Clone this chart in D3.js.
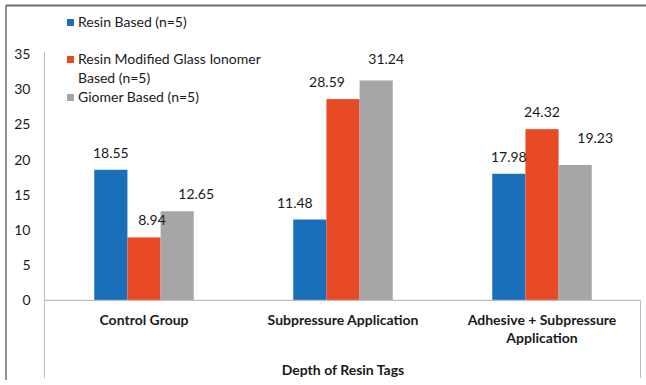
<!DOCTYPE html>
<html>
<head>
<meta charset="utf-8">
<script src="https://cdn.jsdelivr.net/npm/d3@7"></script>
<style>
  body { margin: 0; background: #fff; }
  text { font-family: Lato, "Open Sans", sans-serif; fill: #1a1a1a; }
</style>
</head>
<body>
<div id="chart"></div>
<script>
// categories and series
const groups = ["Control Group", "Subpressure Application", "Adhesive + Subpressure Application"];
const seriesNames = ["Resin Based (n=5)", "Resin Modified Glass Ionomer Based (n=5)", "Giomer Based (n=5)"];
const resinBased = [18.55, 11.48, 17.98];
const rmgiBased = [8.94, 28.59, 24.32];
const giomerBased = [12.65, 31.24, 19.23];
const yTicks = [0, 5, 10, 15, 20, 25, 30, 35];
const axisTitle = "Depth of Resin Tags";

// label nudges (the source chart has hand-placed labels)
const labelDx = [[0, -15, 0], [8, -16, 0], [19, 10, 20]];
const labelDy = [[0, 0, 0], [0, 0, 0], [0, -4, -10]];

const colors = ["#1a6fbb", "#e84a26", "#a6a6a6"];
const values = [resinBased, rmgiBased, giomerBased];

const width = 646, height = 385;
const plot = {left: 44.5, right: 641.5, top: 54, bottom: 300.3};
const fs = "14px";

const svg = d3.select("#chart")
  .append("svg")
  .attr("width", width)
  .attr("height", height);

// outer frame (top and left edges visible)
svg.append("line")
  .attr("x1", 6).attr("x2", width).attr("y1", 5.5).attr("y2", 5.5)
  .attr("stroke", "#6e6e6e").attr("stroke-width", 2);
svg.append("line")
  .attr("x1", 6).attr("x2", 6).attr("y1", 5).attr("y2", 380)
  .attr("stroke", "#6e6e6e").attr("stroke-width", 1.5);

const x0 = d3.scaleBand()
  .domain(groups)
  .range([plot.left, plot.right])
  .paddingInner(0.5)
  .paddingOuter(0.25);

const x1 = d3.scaleBand()
  .domain(d3.range(seriesNames.length))
  .range([0, x0.bandwidth()]);

const y = d3.scaleLinear()
  .domain([0, 35])
  .range([plot.bottom, plot.top]);

// Y axis labels
const yAxis = svg.append("g")
  .attr("transform", `translate(${plot.left},0)`)
  .call(d3.axisLeft(y).tickValues(yTicks).tickSize(0).tickPadding(14));
yAxis.select(".domain").remove();
yAxis.selectAll("text")
  .style("font-family", "Lato, sans-serif")
  .style("font-size", fs)
  .attr("fill", "#1a1a1a");

// axis lines
svg.append("line")
  .attr("x1", plot.left).attr("x2", plot.left)
  .attr("y1", y(35) - 2).attr("y2", 378)
  .attr("stroke", "#bdbdbd").attr("stroke-width", 1);
svg.append("line")
  .attr("x1", plot.right - 1).attr("x2", plot.right - 1)
  .attr("y1", y(0)).attr("y2", 378)
  .attr("stroke", "#bdbdbd").attr("stroke-width", 1);

// bars
const groupG = svg.append("g").selectAll("g")
  .data(groups)
  .join("g")
  .attr("transform", d => `translate(${x0(d)},0)`);

groupG.selectAll("rect")
  .data((g, gi) => values.map((s, si) => ({si, gi, v: s[gi]})))
  .join("rect")
  .attr("x", d => x1(d.si))
  .attr("y", d => y(d.v))
  .attr("width", x1.bandwidth())
  .attr("height", d => y(0) - y(d.v))
  .attr("fill", d => colors[d.si]);

groupG.selectAll("text.val")
  .data((g, gi) => values.map((s, si) => ({si, gi, v: s[gi]})))
  .join("text")
  .attr("class", "val")
  .attr("x", d => x1(d.si) + x1.bandwidth() / 2 + labelDx[d.si][d.gi])
  .attr("y", d => y(d.v) - 12 + labelDy[d.si][d.gi])
  .attr("text-anchor", "middle")
  .style("font-size", fs)
  .text(d => d.v.toFixed(2));

// baseline
svg.append("line")
  .attr("x1", plot.left).attr("x2", plot.right - 1)
  .attr("y1", y(0)).attr("y2", y(0))
  .attr("stroke", "#bdbdbd").attr("stroke-width", 1.2);

// category labels
const catLines = {
  "Control Group": ["Control Group"],
  "Subpressure Application": ["Subpressure Application"],
  "Adhesive + Subpressure Application": ["Adhesive + Subpressure", "Application"]
};
const xAxis = svg.append("g")
  .attr("transform", `translate(0,${y(0)})`)
  .call(d3.axisBottom(x0).tickSize(0).tickPadding(15));
xAxis.select(".domain").remove();
xAxis.selectAll("text")
  .style("font-family", "Lato, sans-serif")
  .style("font-size", fs)
  .style("font-weight", "bold")
  .attr("fill", "#1a1a1a")
  .each(function(d) {
    const t = d3.select(this).text(null);
    catLines[d].forEach((ln, i) => {
      t.append("tspan").attr("x", 0).attr("dy", i === 0 ? "0.71em" : "1.3em").text(ln);
    });
  });

svg.append("text")
  .attr("x", (plot.left + plot.right) / 2)
  .attr("y", 375)
  .attr("text-anchor", "middle")
  .style("font-size", fs)
  .style("font-weight", "bold")
  .text(axisTitle);

// legend
const legendRows = [
  {c: 0, lines: ["Resin Based (n=5)"], y: 27},
  {c: 1, lines: ["Resin Modified Glass Ionomer", "Based (n=5)"], y: 64},
  {c: 2, lines: ["Giomer Based (n=5)"], y: 102}
];
const legend = svg.append("g");
legendRows.forEach(r => {
  legend.append("rect")
    .attr("x", 67).attr("y", r.y - 8)
    .attr("width", 7).attr("height", 7)
    .attr("fill", colors[r.c]);
  r.lines.forEach((ln, i) => {
    legend.append("text")
      .attr("x", 78).attr("y", r.y + i * 19)
      .style("font-size", fs)
      .text(ln);
  });
});
</script>
</body>
</html>
